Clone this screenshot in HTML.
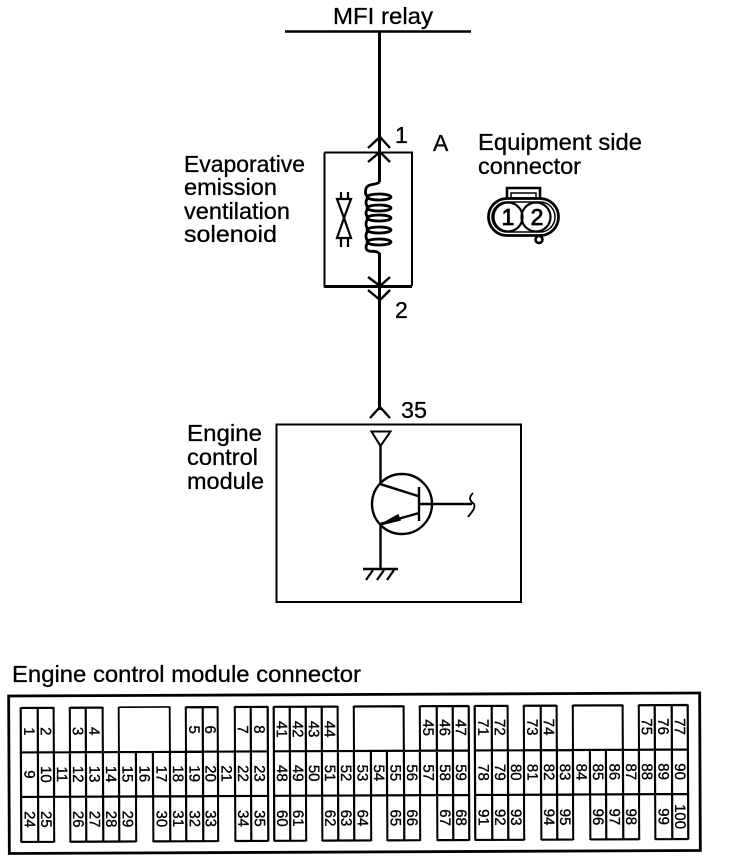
<!DOCTYPE html>
<html><head><meta charset="utf-8"><style>
html,body{margin:0;padding:0;background:#fff;width:736px;height:864px;overflow:hidden}
svg{display:block}
text{font-family:"Liberation Sans",sans-serif;fill:#000}
.l{font-size:23px;stroke:#000;stroke-width:.3}
.n text{font-size:15px;text-anchor:middle;stroke:#000;stroke-width:.35}
</style></head><body>
<svg width="736" height="864" viewBox="0 0 736 864" xmlns="http://www.w3.org/2000/svg">
<g fill="none" stroke="#000" stroke-width="2.4">
<path d="M285 31.5H471" stroke-width="2.6"/>
<path d="M379.5 32V182M379.5 253V410" stroke-width="3"/>
<path d="M324.5 152.5H412V286M324.5 152.5V286.500H412" stroke-width="2"/>
<path d="M412 286.500H324.500" stroke-width="3"/>
<path d="M368 148L380 137L390 148M368 162L380 152L390 162M368 277L380 286L390 277M368 290L380 300L390 290M370 418L380 407L390 418"/>
<path stroke-width="2.800" d="M379.5 182C376 186 366 182 365.500 191C365 195 367 196 369 197M369 208C365 205 365 200 369 197M369 218C365 215 365 211 369 208M369 230C365 227 365 221 369 218M369 242C365 239 365 233 369 230M369 242C365 245 365 250 369 251C372 252 377 250 379.500 254"/>
<ellipse cx="379" cy="197" rx="12" ry="3" stroke-width="2.800"/>
<ellipse cx="379" cy="208" rx="12" ry="3" stroke-width="2.800"/>
<ellipse cx="379" cy="218" rx="12" ry="3" stroke-width="2.800"/>
<ellipse cx="379" cy="230" rx="12" ry="3" stroke-width="2.800"/>
<ellipse cx="379" cy="242" rx="12" ry="3" stroke-width="2.800"/>
<path d="M337 199H351L344 218L337 238H351L344 218Z" stroke-width="2.200"/>
<path d="M341 192V199M348 192V199M341 238V247M348 238V247" stroke-width="2.200"/>
<path d="M276.500 424.500H521V602H276.500Z" stroke-width="2"/>
<path d="M371.500 431.500H390.500L380.500 446Z" stroke-width="2"/>
<path d="M380.500 446V484M380 484L418 496M419 487V521M419 504H472M419 513L380 524M380.500 524V570M363 569H398" stroke-width="2.400"/>
<path d="M380 525L398 515L400 520Z" fill="#000" stroke-width="1.500"/>
<circle cx="402" cy="504" r="30" stroke-width="2.400"/>
<path d="M473 493C468 498 470 501 474 504C476 508 471 513 468 517" stroke-width="1.800"/>
<path d="M373 570L366 580M384 570L377 580M394 570L387 580" stroke-width="2.200"/>
<path d="M507 198V188H540V198" stroke-width="2.600"/>
<path d="M511 193H536V198H511Z" stroke-width="1.500"/>
<rect x="488.500" y="198.500" width="70" height="37" rx="18.500" fill="#fff" stroke-width="2.800"/>
<rect x="492" y="202" width="63" height="30" rx="15" stroke-width="1.500"/>
<circle cx="508" cy="217" r="14.500" stroke-width="2.200"/>
<circle cx="536" cy="217" r="14.500" stroke-width="2.200"/>
<circle cx="539" cy="239.500" r="3.500" fill="#fff" stroke-width="2.600"/>
</g>
<text class="l" x="333" y="24" textLength="100" lengthAdjust="spacingAndGlyphs">MFI relay</text>
<text class="l" x="395" y="143">1</text>
<text class="l" x="433" y="151">A</text>
<text class="l" x="478" y="150" textLength="164" lengthAdjust="spacingAndGlyphs">Equipment side</text>
<text class="l" x="478" y="174" textLength="103" lengthAdjust="spacingAndGlyphs">connector</text>
<text class="l" x="184" y="172" textLength="121" lengthAdjust="spacingAndGlyphs">Evaporative</text>
<text class="l" x="184" y="195" textLength="93" lengthAdjust="spacingAndGlyphs">emission</text>
<text class="l" x="184" y="219" textLength="106" lengthAdjust="spacingAndGlyphs">ventilation</text>
<text class="l" x="184" y="242" textLength="93" lengthAdjust="spacingAndGlyphs">solenoid</text>
<text class="l" x="395" y="318">2</text>
<text class="l" x="401" y="418" textLength="26" lengthAdjust="spacingAndGlyphs">35</text>
<text class="l" x="187" y="441" textLength="75" lengthAdjust="spacingAndGlyphs">Engine</text>
<text class="l" x="187" y="465" textLength="71" lengthAdjust="spacingAndGlyphs">control</text>
<text class="l" x="187" y="489" textLength="77" lengthAdjust="spacingAndGlyphs">module</text>
<text class="l" x="12" y="682" textLength="349" lengthAdjust="spacingAndGlyphs">Engine control module connector</text>
<g transform="rotate(-0.25 350 775)">
<path fill="none" stroke="#000" stroke-width="2.800" d="M9 694.500H700V852H9Z"/>
<path fill="none" stroke="#000" stroke-width="2.200" d="M21 706.500H54M70 706.500H103M119 706.500H170M186 706.500H218M235 706.500H268M274 706.500H338M354 706.500H404M420 706.500H469M475 706.500H508M524 706.500H557M573 706.500H623M639 706.500H688
M21 751H268M274 751H469M475 751H688M21 795.500H268M274 795.500H469M475 795.500H688
M21 840.500H54M70 840.500H136M153 840.500H218M235 840.500H268M274 840.500H306M322 840.500H371M387 840.500H420M437 840.500H469M475 840.500H524M541 840.500H573M590 840.500H639M655 840.500H688
M21 706V751M38 706V751M54 706V751M70 706V751M86 706V751M103 706V751M119 706V751M170 706V751M186 706V751M203 706V751M218 706V751M235 706V751M251 706V751M268 706V751M274 706V751M290 706V751M306 706V751M322 706V751M338 706V751M354 706V751M404 706V751M420 706V751M437 706V751M453 706V751M469 706V751M475 706V751M492 706V751M508 706V751M524 706V751M541 706V751M557 706V751M573 706V751M623 706V751M639 706V751M655 706V751M672 706V751M688 706V751
M21 751V796M38 751V796M54 751V796M70 751V796M86 751V796M103 751V796M119 751V796M136 751V796M153 751V796M170 751V796M186 751V796M203 751V796M218 751V796M235 751V796M251 751V796M268 751V796M274 751V796M290 751V796M306 751V796M322 751V796M338 751V796M354 751V796M371 751V796M387 751V796M404 751V796M420 751V796M437 751V796M453 751V796M469 751V796M475 751V796M492 751V796M508 751V796M524 751V796M541 751V796M557 751V796M573 751V796M590 751V796M606 751V796M623 751V796M639 751V796M655 751V796M672 751V796M688 751V796
M21 796V841M38 796V841M54 796V841M70 796V841M86 796V841M103 796V841M119 796V841M136 796V841M153 796V841M170 796V841M186 796V841M203 796V841M218 796V841M235 796V841M251 796V841M268 796V841M274 796V841M290 796V841M306 796V841M322 796V841M338 796V841M354 796V841M371 796V841M387 796V841M404 796V841M420 796V841M437 796V841M453 796V841M469 796V841M475 796V841M492 796V841M508 796V841M524 796V841M541 796V841M557 796V841M573 796V841M590 796V841M606 796V841M623 796V841M639 796V841M655 796V841M672 796V841M688 796V841"/>
<g fill="#fff" stroke="none">
<rect x="55" y="797" width="14" height="43"/><rect x="137" y="797" width="15" height="43"/><rect x="219" y="797" width="15" height="43"/><rect x="307" y="797" width="14" height="43"/><rect x="372" y="797" width="14" height="43"/><rect x="421" y="797" width="15" height="43"/><rect x="525" y="797" width="15" height="43"/><rect x="574" y="797" width="15" height="43"/><rect x="640" y="797" width="14" height="43"/>
<rect x="55" y="707" width="14" height="43"/><rect x="104" y="707" width="14" height="43"/><rect x="120" y="707" width="49" height="43"/><rect x="171" y="707" width="14" height="43"/><rect x="219" y="707" width="15" height="43"/><rect x="339" y="707" width="14" height="43"/><rect x="405" y="707" width="14" height="43"/><rect x="509" y="707" width="14" height="43"/><rect x="558" y="707" width="14" height="43"/><rect x="624" y="707" width="14" height="43"/>
</g>
<g class="n">
<text transform="translate(24.500,730) rotate(90)">1</text><text transform="translate(41,730) rotate(90)">2</text><text transform="translate(73,730) rotate(90)">3</text><text transform="translate(89.500,730) rotate(90)">4</text><text transform="translate(189.500,729) rotate(90)">5</text><text transform="translate(205.500,729) rotate(90)">6</text><text transform="translate(238,729) rotate(90)">7</text><text transform="translate(254.500,729) rotate(90)">8</text>
<text transform="translate(277,729) rotate(90)">41</text><text transform="translate(293,729) rotate(90)">42</text><text transform="translate(309,729) rotate(90)">43</text><text transform="translate(325,729) rotate(90)">44</text><text transform="translate(423.500,728) rotate(90)">45</text><text transform="translate(440,728) rotate(90)">46</text><text transform="translate(456,728) rotate(90)">47</text>
<text transform="translate(478.500,728) rotate(90)">71</text><text transform="translate(495,728) rotate(90)">72</text><text transform="translate(527.500,728) rotate(90)">73</text><text transform="translate(544,728) rotate(90)">74</text><text transform="translate(642,728) rotate(90)">75</text><text transform="translate(658.500,728) rotate(90)">76</text><text transform="translate(675,728) rotate(90)">77</text>
<text transform="translate(24.500,773) rotate(90)">9</text><text transform="translate(41,773) rotate(90)">10</text><text transform="translate(57,773) rotate(90)">11</text><text transform="translate(73,773) rotate(90)">12</text><text transform="translate(89.500,773) rotate(90)">13</text><text transform="translate(106,773) rotate(90)">14</text><text transform="translate(122.500,773) rotate(90)">15</text><text transform="translate(139.500,773) rotate(90)">16</text><text transform="translate(156.500,773) rotate(90)">17</text><text transform="translate(173,773) rotate(90)">18</text><text transform="translate(189.500,773) rotate(90)">19</text><text transform="translate(205.500,773) rotate(90)">20</text><text transform="translate(221.500,773) rotate(90)">21</text><text transform="translate(238,773) rotate(90)">22</text><text transform="translate(254.500,773) rotate(90)">23</text>
<text transform="translate(277,773) rotate(90)">48</text><text transform="translate(293,773) rotate(90)">49</text><text transform="translate(309,773) rotate(90)">50</text><text transform="translate(325,773) rotate(90)">51</text><text transform="translate(341,773) rotate(90)">52</text><text transform="translate(357.500,773) rotate(90)">53</text><text transform="translate(374,773) rotate(90)">54</text><text transform="translate(390.500,773) rotate(90)">55</text><text transform="translate(407,773) rotate(90)">56</text><text transform="translate(423.500,773) rotate(90)">57</text><text transform="translate(440,773) rotate(90)">58</text><text transform="translate(456,773) rotate(90)">59</text>
<text transform="translate(478.500,773) rotate(90)">78</text><text transform="translate(495,773) rotate(90)">79</text><text transform="translate(511,773) rotate(90)">80</text><text transform="translate(527.500,773) rotate(90)">81</text><text transform="translate(544,773) rotate(90)">82</text><text transform="translate(560,773) rotate(90)">83</text><text transform="translate(576.500,773) rotate(90)">84</text><text transform="translate(593,773) rotate(90)">85</text><text transform="translate(609.500,773) rotate(90)">86</text><text transform="translate(626,773) rotate(90)">87</text><text transform="translate(642,773) rotate(90)">88</text><text transform="translate(658.500,773) rotate(90)">89</text><text transform="translate(675,773) rotate(90)">90</text>
<text transform="translate(24.500,818) rotate(90)">24</text><text transform="translate(41,818) rotate(90)">25</text><text transform="translate(73,818) rotate(90)">26</text><text transform="translate(89.500,818) rotate(90)">27</text><text transform="translate(106,818) rotate(90)">28</text><text transform="translate(122.500,818) rotate(90)">29</text><text transform="translate(156.500,818) rotate(90)">30</text><text transform="translate(173,818) rotate(90)">31</text><text transform="translate(189.500,818) rotate(90)">32</text><text transform="translate(205.500,818) rotate(90)">33</text><text transform="translate(238,818) rotate(90)">34</text><text transform="translate(254.500,818) rotate(90)">35</text>
<text transform="translate(277,818) rotate(90)">60</text><text transform="translate(293,818) rotate(90)">61</text><text transform="translate(325,818) rotate(90)">62</text><text transform="translate(341,818) rotate(90)">63</text><text transform="translate(357.500,818) rotate(90)">64</text><text transform="translate(390.500,818) rotate(90)">65</text><text transform="translate(407,818) rotate(90)">66</text><text transform="translate(440,818) rotate(90)">67</text><text transform="translate(456,818) rotate(90)">68</text>
<text transform="translate(478.500,818) rotate(90)">91</text><text transform="translate(495,818) rotate(90)">92</text><text transform="translate(511,818) rotate(90)">93</text><text transform="translate(544,818) rotate(90)">94</text><text transform="translate(560,818) rotate(90)">95</text><text transform="translate(593,818) rotate(90)">96</text><text transform="translate(609.500,818) rotate(90)">97</text><text transform="translate(626,818) rotate(90)">98</text><text transform="translate(658.500,818) rotate(90)">99</text><text transform="translate(675,818) rotate(90)">100</text>
</g>
</g>
<text x="508" y="225" font-size="23" text-anchor="middle" stroke="#000" stroke-width=".8">1</text>
<text x="537" y="225" font-size="23" text-anchor="middle" stroke="#000" stroke-width=".8">2</text>
</svg>
</body></html>
